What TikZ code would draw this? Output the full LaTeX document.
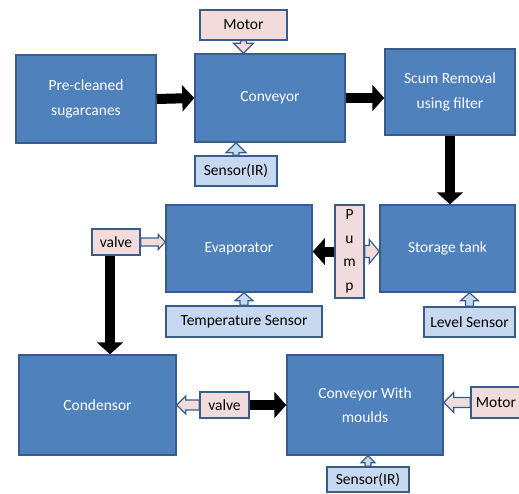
\documentclass[tikz,border=0pt]{standalone}
\usepackage{fontspec}
\setmainfont{Carlito}
\usetikzlibrary{arrows.meta,calc}
\pgfdeclarelayer{bg}\pgfsetlayers{bg,main}
\definecolor{boxblue}{HTML}{4F81BD}
\definecolor{boxedge}{HTML}{385D8A}
\definecolor{pinkf}{HTML}{F2DCDB}
\definecolor{lblue}{HTML}{C6D9F1}
% hollow block arrow: start, end, fill, shaft half width, head half width, head length
\newcommand\hollowarr[6]{%
  \filldraw[hollow, fill=#3] let \p1=(#1), \p2=(#2),
    \n1={atan2(\y2-\y1,\x2-\x1)}, \n2={veclen(\x2-\x1,\y2-\y1)} in
    {[shift={(\p1)}, rotate=\n1]
    (0,-#4) -- ({\n2-#6},-#4) -- ({\n2-#6},-#5) -- (\n2,0) -- ({\n2-#6},#5) -- ({\n2-#6},#4) -- (0,#4) -- cycle};}
\begin{document}
\begin{tikzpicture}[x=1pt,y=-1pt,
  bigbox/.style={draw=boxedge, line width=1.5pt, fill=boxblue, text=white, inner sep=0pt,
    align=center, font=\fontsize{15.5}{24.5}\selectfont},
  pinkbox/.style={draw=boxedge, line width=1.5pt, fill=pinkf, text=black, inner sep=0pt,
    align=center, font=\fontsize{15.5}{18}\selectfont},
  lbluebox/.style={draw=boxedge, line width=1.5pt, fill=lblue, text=black, inner sep=0pt,
    align=center, font=\fontsize{15.5}{18}\selectfont},
  blk/.style={line width=10pt, -{Triangle[length=12pt,width=26pt]}},
  hollow/.style={draw=boxedge, line width=1.2pt, line join=miter}]
\useasboundingbox (0,0) rectangle (519,493);

% main blocks
\node[bigbox, minimum width=140pt, minimum height=88pt] (pre) at (86,99) {Pre-cleaned\\sugarcanes};
\node[bigbox, minimum width=150pt, minimum height=88pt] (conv) at (270,98) {Conveyor};
\node[bigbox, minimum width=130pt, minimum height=86pt] (scum) at (450,92) {Scum Removal\\using filter};
\node[bigbox, minimum width=146pt, minimum height=87pt] (evap) at (239,248.5) {Evaporator};
\node[bigbox, minimum width=135pt, minimum height=87pt] (store) at (447.5,248.5) {Storage tank};
\node[bigbox, minimum width=157pt, minimum height=100pt] (cond) at (97.5,405) {Condensor};
\node[bigbox, minimum width=156pt, minimum height=100pt] (mould) at (365,405) {Conveyor With\\moulds};

% small blocks
\node[pinkbox, minimum width=87pt, minimum height=30pt] (motor) at (243.5,25) {Motor};
\node[lbluebox, minimum width=82pt, minimum height=30pt] (sens) at (236,171) {Sensor(IR)};
\node[pinkbox, minimum width=29pt, minimum height=93pt, font=\fontsize{15.5}{23.5}\selectfont] (pump) at (349.5,251.5) {P\\u\\m\\p};
\node[pinkbox, minimum width=48pt, minimum height=26pt] (valve) at (116,242) {valve};
\node[lbluebox, minimum width=156pt, minimum height=31pt] (temp) at (244,321.5) {Temperature Sensor};
\node[lbluebox, minimum width=91pt, minimum height=30pt] (level) at (469.5,322) {Level Sensor};
\node[pinkbox, minimum width=49pt, minimum height=26pt] (valveb) at (224.5,405) {valve};
\node[pinkbox, minimum width=50pt, minimum height=31pt] (motorb) at (496,402.5) {Motor};
\node[lbluebox, minimum width=82pt, minimum height=25pt] (sensb) at (368,479.5) {Sensor(IR)};

% hollow (block) arrows
\begin{pgfonlayer}{bg}
\hollowarr{motor.south}{motor.south |- conv.north}{pinkf}{3}{10}{10}
\hollowarr{sens.north}{sens.north |- conv.south}{lblue}{3}{10}{10}
\hollowarr{valve.east}{valve.east -| evap.west}{pinkf}{4}{7.5}{7}
\hollowarr{pump.east}{pump.east -| store.west}{pinkf}{6}{12}{10}
\hollowarr{temp.north}{temp.north |- evap.south}{lblue}{4}{9}{8}
\hollowarr{level.north}{level.north |- store.south}{lblue}{4}{9}{8}
\hollowarr{valveb.west}{valveb.west -| cond.east}{pinkf}{5}{9}{9}
\hollowarr{motorb.west}{motorb.west -| mould.east}{pinkf}{5}{10}{10}
\hollowarr{sensb.north}{sensb.north |- mould.south}{lblue}{3}{7}{7}
\end{pgfonlayer}

% black arrows
\draw[blk] (pre.east) -- (conv.west);
\draw[blk] (conv.east) -- (conv.east -| scum.west);
\draw[blk] (scum.south) -- (scum.south |- store.north);
\draw[blk] (pump.west) -- (pump.west -| evap.east);
\draw[blk] ([xshift=-6pt]valve.south) -- ([xshift=-6pt]valve.south |- cond.north);
\draw[blk] (valveb.east) -- (valveb.east -| mould.west);
\end{tikzpicture}
\end{document}
